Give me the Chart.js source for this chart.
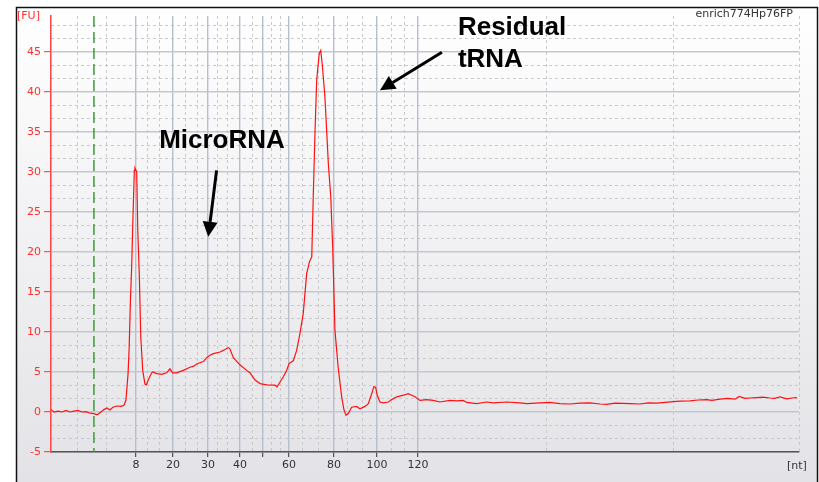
<!DOCTYPE html>
<html>
<head>
<meta charset="utf-8">
<script src="https://cdn.jsdelivr.net/npm/chart.js@4.4.1/dist/chart.umd.min.js"></script>
<style>
  html, body { margin: 0; padding: 0; background: #fff; }
  #wrap { width: 819px; height: 482px; }
</style>
</head>
<body>
<div id="wrap"><canvas id="trace"></canvas></div>
<script>
// migration time (s) and fluorescence (FU)
const timeSec = [
  19.00, 19.20, 19.47, 19.74, 20.00, 20.27, 20.54, 20.80, 21.07, 21.34, 21.61, 21.87, 22.07, 22.28,
  22.54, 22.74, 22.94, 23.14, 23.41, 23.68, 23.88, 24.01, 24.08, 24.15, 24.22, 24.31, 24.39, 24.46,
  24.57, 24.61, 24.73, 24.80, 24.90, 25.00, 25.13, 25.28, 25.38, 25.50, 25.73, 25.82, 26.07, 26.40,
  26.73, 26.95, 27.13, 27.40, 27.84, 28.29, 28.51, 28.74, 29.18, 29.41, 29.63, 29.85, 30.30, 30.52,
  30.85, 30.96, 31.19, 31.63, 32.08, 32.30, 32.64, 32.97, 33.42, 33.97, 34.11, 34.31, 34.53, 34.75,
  34.91, 35.20, 35.42, 35.64, 35.86, 36.09, 36.28, 36.43, 36.53, 36.65, 36.76, 36.93, 37.03, 37.13,
  37.31, 37.54, 37.70, 37.83, 37.98, 38.20, 38.43, 38.58, 38.72, 38.87, 39.10, 39.43, 39.65, 39.99,
  40.21, 40.44, 40.59, 40.70, 40.81, 40.99, 41.21, 41.55, 41.77, 42.11, 42.55, 42.88, 43.11, 43.33,
  43.66, 44.11, 44.55, 45.00, 45.67, 46.12, 46.56, 46.79, 47.45, 48.12, 48.56, 49.46, 50.35, 50.80,
  51.68, 52.35, 53.02, 53.69, 54.36, 55.03, 55.70, 56.14, 56.70, 57.70, 58.37, 58.91, 59.49, 60.04,
  60.60, 61.04, 61.71, 62.25, 62.83, 63.18, 63.72, 64.25, 64.72, 65.01, 65.39, 65.72, 66.17, 66.59,
  67.06, 67.39, 67.73, 68.18, 68.53, 68.86
];
const fluor = [
  0.3, 0.0, 0.1, 0.0, 0.2, 0.0, 0.1, 0.2, 0.0, 0.05, -0.15, -0.2, -0.35, -0.1,
  0.3, 0.5, 0.25, 0.6, 0.75, 0.7, 0.85, 1.5, 3.1, 4.8, 7.7, 14, 18, 23,
  30.2, 30.5, 30, 22.7, 17.3, 9.4, 5.2, 3.5, 3.4, 4.0, 4.9, 5.0, 4.8, 4.7,
  4.9, 5.4, 4.9, 4.9, 5.2, 5.6, 5.7, 6.0, 6.3, 6.8, 7.1, 7.3, 7.5, 7.7,
  8.05, 7.9, 6.8, 5.9, 5.2, 4.9, 4.0, 3.55, 3.4, 3.35, 3.15, 3.75, 4.4, 5.2,
  6.05, 6.4, 7.7, 9.8, 12.3, 17.3, 18.8, 19.4, 26.9, 35.2, 41.5, 44.8, 45.2, 43.5,
  39.4, 31, 26.9, 20.6, 10.2, 5.5, 1.9, 0.3, -0.4, -0.2, 0.6, 0.7, 0.4, 0.7,
  1.05, 2.3, 3.2, 3.05, 2.1, 1.25, 1.15, 1.25, 1.55, 1.9, 2.1, 2.3, 2.1, 1.9,
  1.45, 1.55, 1.45, 1.25, 1.45, 1.4, 1.45, 1.2, 1.05, 1.25, 1.15, 1.25, 1.15, 1.05,
  1.15, 1.2, 1.05, 1.0, 1.1, 1.15, 1.0, 0.95, 1.1, 1.05, 1.0, 1.15, 1.1, 1.2,
  1.3, 1.35, 1.4, 1.5, 1.55, 1.45, 1.6, 1.7, 1.6, 1.95, 1.7, 1.75, 1.8, 1.85,
  1.75, 1.7, 1.9, 1.65, 1.75, 1.8
];

// ladder peaks (s) and their sizes (nt); 50 nt has no label in the original
const ladderSec = [24.68, 27.15, 29.49, 31.63, 33.17, 34.91, 37.92, 40.79, 43.53];
const ladderNt = ["8", "20", "30", "40", "", "60", "80", "100", "120"];
const minorSec = [20.80, 22.68, 25.42, 26.22, 27.96, 28.76, 30.16, 30.83, 32.44, 33.77, 34.31,
  35.84, 36.91, 38.85, 39.79, 41.73, 42.66, 52.09, 60.58, 69.0];
const fuTicks = [-5, 0, 5, 10, 15, 20, 25, 30, 35, 40, 45];
const lowerMarkerSec = 21.87;
const sampleName = "enrich774Hp76FP";

const fuMinor = [];
fuTicks.forEach((v) => { fuMinor.push(v + 5 / 3, v + 10 / 3); });

const FONT = "'DejaVu Sans', sans-serif";

function setTicks(list) {
  return (scale) => { scale.ticks = list.map((v) => ({ value: v })); };
}

function arrow(ctx, x0, y0, x1, y1) {
  const a = Math.atan2(y1 - y0, x1 - x0);
  const len = 15, half = 7.5;
  const bx = x1 - len * Math.cos(a), by = y1 - len * Math.sin(a);
  ctx.beginPath();
  ctx.moveTo(x0, y0);
  ctx.lineTo(bx, by);
  ctx.lineWidth = 3;
  ctx.strokeStyle = "#000";
  ctx.stroke();
  ctx.beginPath();
  ctx.moveTo(x1, y1);
  ctx.lineTo(bx + half * Math.sin(a), by - half * Math.cos(a));
  ctx.lineTo(bx - half * Math.sin(a), by + half * Math.cos(a));
  ctx.closePath();
  ctx.fillStyle = "#000";
  ctx.fill();
}

// window background and frame
const frame = {
  id: "frame",
  beforeDraw(chart) {
    const ctx = chart.ctx;
    ctx.save();
    ctx.fillStyle = "#fff";
    ctx.fillRect(0, 0, chart.width, chart.height);
    const g = ctx.createLinearGradient(0, 7, 0, chart.height);
    g.addColorStop(0, "#ffffff");
    g.addColorStop(1, "#e3e3e7");
    ctx.fillStyle = g;
    ctx.fillRect(16, 7, 802, chart.height);
    ctx.strokeStyle = "#111";
    ctx.lineWidth = 1.5;
    ctx.strokeRect(16.5, 7.5, 801, chart.height + 10);
    ctx.restore();
  },
};

// marker line, labels and the hand-drawn notes
const overlay = {
  id: "overlay",
  beforeDatasetsDraw(chart) {
    const { ctx, chartArea, scales } = chart;
    const gx = scales.x.getPixelForValue(lowerMarkerSec);
    ctx.save();
    ctx.strokeStyle = "#3c9a3c";
    ctx.lineWidth = 1.5;
    ctx.setLineDash([11, 5]);
    ctx.beginPath();
    ctx.moveTo(gx, chartArea.top);
    ctx.lineTo(gx, chartArea.bottom);
    ctx.stroke();
    ctx.restore();
  },
  afterDraw(chart) {
    const { ctx, scales } = chart;
    const x = scales.x, y = scales.y;
    ctx.save();
    ctx.font = "11px " + FONT;
    ctx.textBaseline = "middle";
    ctx.fillStyle = "#ff3030";
    ctx.textAlign = "left";
    ctx.fillText("[FU]", 17, 16);
    ctx.fillStyle = "#333";
    ctx.fillText("[nt]", 787, 466);
    ctx.textAlign = "right";
    ctx.fillText(sampleName, 793, 14);

    ctx.font = "bold 26px 'Liberation Sans', Arial, sans-serif";
    ctx.fillStyle = "#000";
    ctx.textAlign = "center";
    ctx.fillText("MicroRNA", x.getPixelForValue(30.43), y.getPixelForValue(33.9));
    ctx.textAlign = "left";
    ctx.fillText("Residual", x.getPixelForValue(46.2), y.getPixelForValue(47.96));
    ctx.fillText("tRNA", x.getPixelForValue(46.2), y.getPixelForValue(43.96));

    arrow(ctx, x.getPixelForValue(30.07), y.getPixelForValue(30.2),
      x.getPixelForValue(29.51), y.getPixelForValue(21.9));
    arrow(ctx, x.getPixelForValue(45.13), y.getPixelForValue(44.96),
      x.getPixelForValue(40.99), y.getPixelForValue(40.21));
    ctx.restore();
  },
};

new Chart(document.getElementById("trace"), {
  type: "line",
  data: {
    datasets: [{
      data: timeSec.map((t, i) => ({ x: t, y: fluor[i] })),
      borderColor: "#ff1010",
      borderWidth: 1.2,
      pointRadius: 0,
      tension: 0,
      fill: false,
    }],
  },
  options: {
    responsive: true,
    maintainAspectRatio: false,
    animation: false,
    events: [],
    layout: { padding: { top: 16, right: 20, left: 0, bottom: 0 } },
    plugins: { legend: { display: false }, tooltip: { enabled: false } },
    scales: {
      xm: {
        type: "linear", position: "bottom", min: 19, max: 69,
        afterBuildTicks: setTicks(minorSec),
        afterFit: (s) => { s.height = 0; },
        ticks: { display: false },
        grid: { color: "#c9c9cc", lineWidth: 1, drawTicks: false },
        border: { display: false, dash: [3, 3] },
      },
      ym: {
        type: "linear", position: "left", min: -5, max: 49.5,
        afterBuildTicks: setTicks(fuMinor),
        afterFit: (s) => { s.width = 0; },
        ticks: { display: false },
        grid: { color: "#c9c9cc", lineWidth: 1, drawTicks: false },
        border: { display: false, dash: [3, 3] },
      },
      x: {
        type: "linear", position: "bottom", min: 19, max: 69,
        afterBuildTicks: setTicks(ladderSec),
        afterFit: (s) => { s.height = 30; },
        ticks: {
          color: "#333", font: { family: FONT, size: 11 }, padding: 2,
          maxRotation: 0, autoSkip: false,
          callback: (v, i) => ladderNt[i],
        },
        grid: { color: "#b7bfcd", lineWidth: 1.4, tickColor: "#333", tickLength: 5, tickWidth: 1 },
        border: { color: "#555", width: 1.5 },
      },
      y: {
        type: "linear", position: "left", min: -5, max: 49.5,
        afterBuildTicks: setTicks(fuTicks),
        afterFit: (s) => { s.width = 51; },
        ticks: { color: "#ff3030", font: { family: FONT, size: 11 }, padding: 3 },
        grid: { color: "#c2c7d1", lineWidth: 1.4, tickColor: "#ff3030", tickLength: 7, tickWidth: 1 },
        border: { color: "#ff4545", width: 1.5 },
      },
    },
  },
  plugins: [frame, overlay],
});
</script>
</body>
</html>
